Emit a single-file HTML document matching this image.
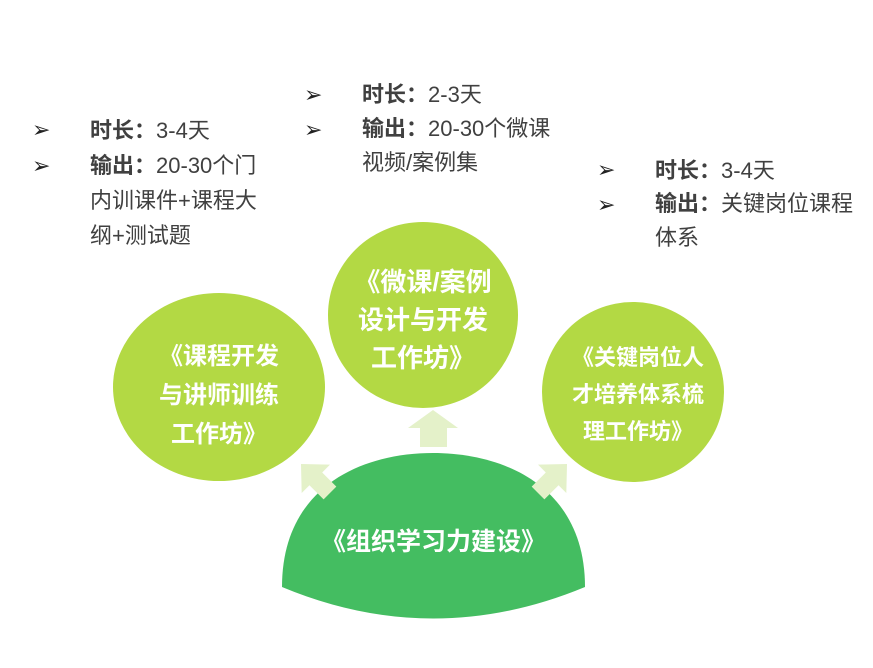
<!DOCTYPE html>
<html><head><meta charset="utf-8"><style>
body{margin:0;width:873px;height:668px;background:#fff;position:relative;overflow:hidden;font-family:"Liberation Sans","Noto Sans CJK SC",sans-serif}
.t{position:absolute;font-size:22px;color:#404040;line-height:35px;white-space:nowrap}
.t b{font-weight:bold}
.bl{position:absolute;font-size:22px;color:#222}
.c{position:absolute;color:#fff;font-weight:bold;text-align:center;white-space:nowrap}
</style></head><body>
<svg width="873" height="668" style="position:absolute;left:0;top:0">
<ellipse cx="219" cy="387" rx="106" ry="94" fill="#b3d944"/>
<ellipse cx="423" cy="315" rx="95" ry="93" fill="#b3d944"/>
<ellipse cx="633" cy="392" rx="91" ry="90" fill="#b3d944"/>
<path d="M282,587 C282,488 360,453 433,453 C506,453 585,488 585,587 Q433,650 282,587 Z" fill="#44bd61"/>
<polygon points="420,447 447,447 447,428 458,428 433,410 408,428 420,428" fill="#e4f1c9"/>
<g transform="translate(313,476) rotate(-45)"><polygon points="-9,24 9,24 9,4 20,4 0,-17 -20,4 -9,4" fill="#e4f1c9"/></g>
<g transform="translate(555,476) rotate(45)"><polygon points="-9,24 9,24 9,4 20,4 0,-17 -20,4 -9,4" fill="#e4f1c9"/></g>
</svg>
<div class="bl" style="left:32px;top:117px">➢</div>
<div class="bl" style="left:32px;top:153px">➢</div>
<div class="t" style="left:90px;top:113px"><b>时长：</b>3-4天</div>
<div class="t" style="left:90px;top:148px"><b>输出：</b>20-30个门<br>内训课件+课程大<br>纲+测试题</div>
<div class="bl" style="left:304px;top:82px">➢</div>
<div class="bl" style="left:304px;top:117px">➢</div>
<div class="t" style="left:362px;top:77px"><b>时长：</b>2-3天</div>
<div class="t" style="left:362px;top:112px;line-height:34px"><b>输出：</b>20-30个微课<br>视频/案例集</div>
<div class="bl" style="left:597px;top:157px">➢</div>
<div class="bl" style="left:597px;top:192px">➢</div>
<div class="t" style="left:655px;top:153px"><b>时长：</b>3-4天</div>
<div class="t" style="left:655px;top:187px;line-height:34px"><b>输出：</b>关键岗位课程<br>体系</div>
<div class="c" style="left:119px;width:200px;top:337px;font-size:24px;line-height:39px">《课程开发<br>与讲师训练<br>工作坊》</div>
<div class="c" style="left:328px;width:190px;top:263px;font-size:26px;line-height:38px">《微课/案例<br>设计与开发<br>工作坊》</div>
<div class="c" style="left:553px;width:170px;top:339px;font-size:22px;line-height:37px">《关键岗位人<br>才培养体系梳<br>理工作坊》</div>
<div class="c" style="left:282px;width:303px;top:526px;font-size:25px;line-height:32px">《组织学习力建设》</div>
</body></html>
